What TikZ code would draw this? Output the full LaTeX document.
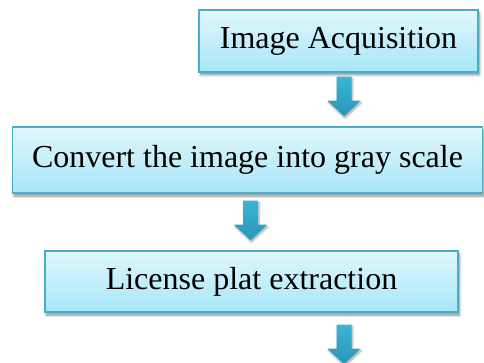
\documentclass[tikz,border=0pt]{standalone}
\usepackage{fontspec}
\setmainfont{Liberation Serif}
\usetikzlibrary{shadows.blur}

\definecolor{boxtop}{HTML}{E2F7FD}
\definecolor{boxbottom}{HTML}{A6E6F8}
\definecolor{boxline}{HTML}{4BACC6}
\definecolor{arrowtop}{HTML}{38B5D8}
\definecolor{arrowbottom}{HTML}{2B96B4}

\tikzset{
  stagebox/.style={
    draw=boxline, line width=1.4pt,
    top color=boxtop, bottom color=boxbottom,
    inner sep=0pt, align=center,
    font=\fontsize{32}{38}\selectfont,
    blur shadow={shadow xshift=1.5pt, shadow yshift=-3pt,
      shadow blur steps=6, shadow blur radius=2.5pt, shadow opacity=45}
  },
  flowarrow/.style={
    top color=arrowtop, bottom color=arrowbottom, draw=none,
    blur shadow={shadow xshift=1pt, shadow yshift=-2pt,
      shadow blur steps=5, shadow blur radius=2pt, shadow opacity=35}
  },
  pics/downarrow/.style={
    code={
      \path[flowarrow]
        (-7.5,0) -- (7.5,0) -- (7.5,24) -- (16.5,24) -- (0,39.5)
        -- (-16.5,24) -- (-7.5,24) -- cycle;
    }
  }
}

\begin{document}
\begin{tikzpicture}[x=1pt, y=-1pt]
  \useasboundingbox (0,0) rectangle (484,363);

  % processing stages
  \node[stagebox, minimum width=279pt, minimum height=62pt] (acq)
    at (338.5,41) {Image Acquisition};
  \node[stagebox, minimum width=470pt, minimum height=66pt] (gray)
    at (247.5,160) {Convert the image into gray scale};
  \node[stagebox, minimum width=413pt, minimum height=61pt] (plate)
    at (251.5,281.5) {License plat extraction};

  % block arrows leading from each stage
  \coordinate (a1) at ([yshift=-4pt] acq.south -| 344,0);
  \coordinate (a2) at ([yshift=-7pt] gray.south -| 250.5,0);
  \coordinate (a3) at ([yshift=-12pt] plate.south -| 344,0);
  \pic at (a1) {downarrow};
  \pic at (a2) {downarrow};
  \pic at (a3) {downarrow};
\end{tikzpicture}
\end{document}
